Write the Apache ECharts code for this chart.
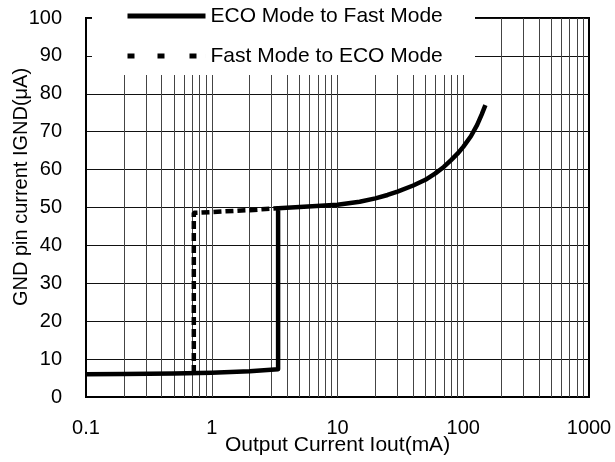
<!DOCTYPE html>
<html><head><meta charset="utf-8">
<script src="https://cdn.jsdelivr.net/npm/echarts@6/dist/echarts.min.js"></script>
<style>html,body{margin:0;padding:0;background:#fff}#c{width:615px;height:462px}</style>
</head><body><div id="c"></div>
<script>
// Data
const ecoToFastX = [0.1, 0.2, 0.5, 1, 2, 3.37, 3.37, 5, 10, 15, 20, 25, 30, 40, 50, 60, 70, 80, 90, 100, 115, 129, 140, 150];
const ecoToFastY = [6.0, 6.1, 6.2, 6.4, 6.8, 7.3, 49.8, 50.1, 50.7, 51.5, 52.4, 53.3, 54.2, 55.8, 57.3, 59.0, 60.7, 62.5, 64.2, 66.0, 68.8, 71.8, 74.5, 77.0];
const fastToEcoX = [0.72, 0.72, 1, 2, 3.37];
const fastToEcoY = [6.3, 48.6, 48.8, 49.3, 49.8];
const xTickLabels = ['0.1', '1', '10', '100', '1000'];
const gridX = [0.2,0.3,0.4,0.5,0.6,0.7,0.8,0.9,1,2,3,4,5,6,7,8,9,10,20,30,40,50,60,70,80,90,100,200,300,400,500,600,700,800,900];
const seriesNames = ['ECO Mode to Fast Mode', 'Fast Mode to ECO Mode'];

const FONT = "'Liberation Sans', Arial, sans-serif";
const pairs = (xs, ys) => xs.map((x, i) => [x, ys[i]]);

const chart = echarts.init(document.getElementById('c'), null, {renderer: 'canvas'});
chart.setOption({
  animation: false,
  backgroundColor: '#fff',
  color: ['#000', '#000', '#000'],
  grid: {left: 86, right: 26, top: 18, bottom: 65, outerBoundsMode: 'none', containLabel: false,
    show: true, borderColor: '#000', borderWidth: 2, backgroundColor: 'transparent'},
  xAxis: {
    type: 'log', logBase: 10, min: 0.1, max: 1000,
    axisLine: {show: true, lineStyle: {color: '#000', width: 2}},
    axisTick: {show: false},
    splitLine: {show: false},
    axisLabel: {color: '#000', fontSize: 20, fontFamily: FONT, margin: 21,
      formatter: v => { const i = Math.round(Math.log10(v) + 1); return xTickLabels[i] !== undefined ? xTickLabels[i] : ''; }},
    name: 'Output Current Iout(mA)', nameLocation: 'middle', nameGap: 38, nameMoveOverlap: false,
    nameTextStyle: {color: '#000', fontSize: 21, fontFamily: FONT}
  },
  yAxis: {
    type: 'value', min: 0, max: 100, interval: 10,
    axisLine: {show: true, lineStyle: {color: '#000', width: 2}},
    axisTick: {show: false},
    splitLine: {show: true, lineStyle: {color: '#111', width: 1}},
    axisLabel: {color: '#000', fontSize: 20, fontFamily: FONT, margin: 24}
  },
  legend: {
    z: 20, orient: 'vertical', left: 125, top: 4, padding: 0,
    itemWidth: 78, itemHeight: 14, itemGap: 16,
    textStyle: {color: '#000', fontSize: 21, fontFamily: FONT, lineHeight: 24},
    data: [
      {name: seriesNames[0], itemStyle: {opacity: 0}, lineStyle: {width: 5, color: '#000', type: 'solid'}},
      {name: seriesNames[1], icon: 'path://M0,0h7v5h-7z M30,0h7v5h-7z M62,0h7v5h-7z M77.99,0h0.01v5h-0.01z',
       itemStyle: {color: '#000', opacity: 1, borderWidth: 0}}
    ]
  },
  graphic: [
    {type: 'rect', z: 10, shape: {x: 92, y: 0, width: 383, height: 75}, style: {fill: '#fff'}},
    {type: 'text', z: 10, x: 21, y: 187, rotation: Math.PI / 2,
     style: {text: 'GND pin current IGND(μA)', font: '20px ' + FONT, fill: '#000', align: 'center', verticalAlign: 'middle'}}
  ],
  series: [
    {
      name: 'grid', type: 'line', data: [[0.1, 0]], symbol: 'none', lineStyle: {opacity: 0}, z: 1, silent: true,
      markLine: {silent: true, symbol: ['none', 'none'], label: {show: false},
        lineStyle: {color: '#444', width: 1, type: 'solid'},
        emphasis: {disabled: true},
        data: gridX.map(v => ({xAxis: v}))}
    },
    {
      name: seriesNames[0], type: 'line', data: pairs(ecoToFastX, ecoToFastY), symbol: 'none', z: 5,
      itemStyle: {color: '#000'},
      lineStyle: {color: '#000', width: 4.5, type: 'solid', join: 'round'}
    },
    {
      name: seriesNames[1], type: 'line', data: pairs(fastToEcoX, fastToEcoY), symbol: 'none', z: 6,
      itemStyle: {color: '#000'},
      lineStyle: {color: '#000', width: 4.5, type: [8, 4]}
    }
  ]
});
</script></body></html>
